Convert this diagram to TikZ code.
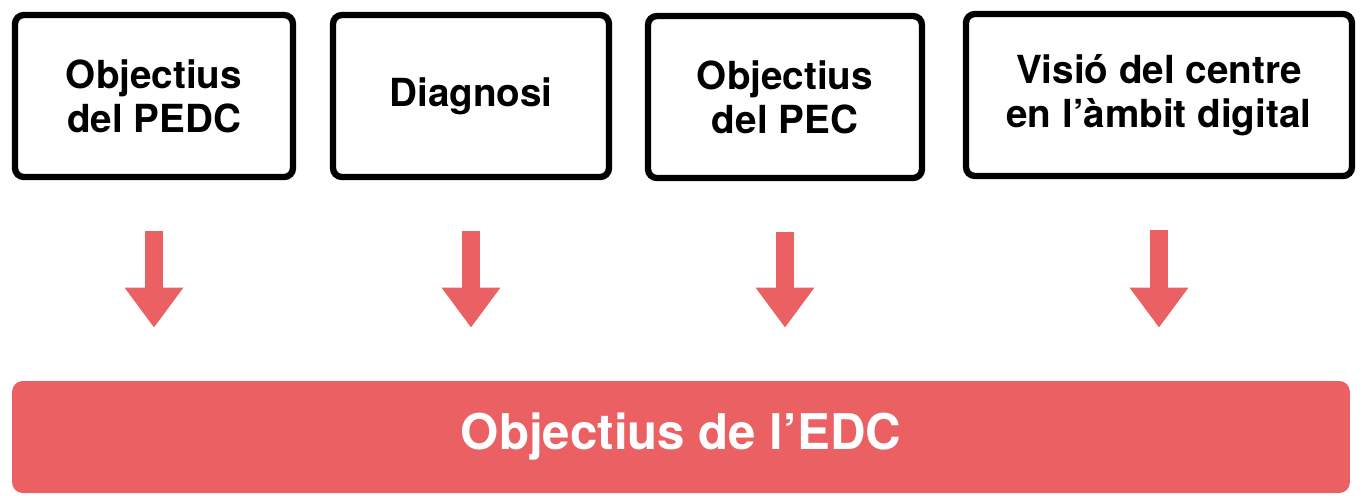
\documentclass[tikz,border=0pt]{standalone}
\usepackage{fontspec}
\setmainfont{TeX Gyre Heros}
\usetikzlibrary{arrows.meta}
\definecolor{edcred}{HTML}{EB6163}
\tikzset{
	source/.style={draw, line width=3.6pt, rounded corners=5pt, minimum height=3.24cm,
		align=center, font=\bfseries\fontsize{22}{25}\selectfont},
	goal/.style={fill=edcred, rounded corners=6pt, minimum width=26.76cm, minimum height=2.24cm,
		text=white, font=\bfseries\fontsize{28}{32}\selectfont},
	feed/.style={draw=edcred, line width=10.2pt, -{Triangle[width=1.12cm, length=0.8cm]},
		shorten <=1.02cm, shorten >=1.06cm}
}
\begin{document}
\begin{tikzpicture}[x=0.02cm, y=-0.02cm]
	\useasboundingbox (0,0) rectangle (1363,495);
	% Boxes
	\node[source, minimum width=5.56cm] (pedc) at (154,96) {Objectius\\del PEDC};
	\node[source, minimum width=5.52cm] (diag) at (471,96) {Diagnosi};
	\node[source, minimum width=5.48cm] (pec) at (785,97) {Objectius\\del PEC};
	\node[source, minimum width=7.72cm] (visio) at (1159,95) {Visió del centre\\en l’àmbit digital};
	\node[goal] (edc) at (681,437) {Objectius de l’EDC};
	% Arrows
	\foreach \n in {pedc, diag, pec, visio}
		\draw[feed] (\n.south) -- (\n.south |- edc.north);
\end{tikzpicture}
\end{document}
